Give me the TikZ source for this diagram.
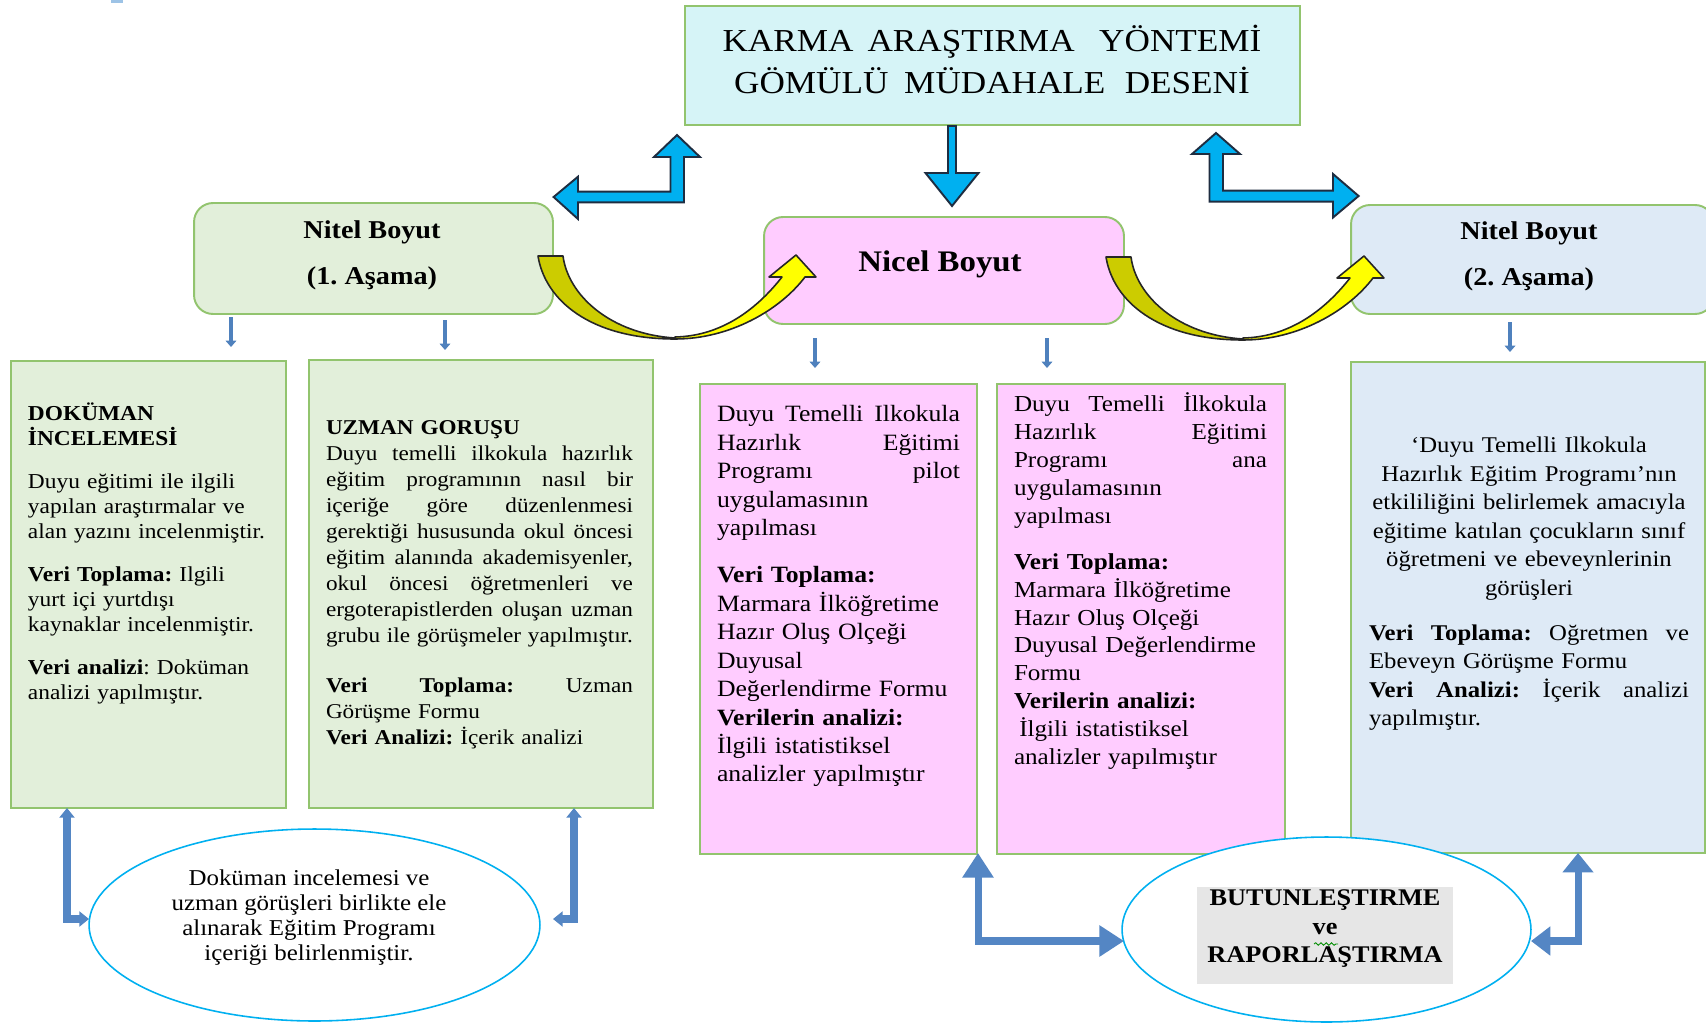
\documentclass[tikz,border=0pt]{standalone}
\usepackage{fontspec}
\setmainfont{Liberation Serif}[FakeStretch=1.1]
\usetikzlibrary{arrows.meta,shapes.geometric,decorations.pathmorphing}
\definecolor{boxgreen}{RGB}{146,196,110}
\definecolor{titlefill}{RGB}{214,244,247}
\definecolor{greenfill}{RGB}{226,239,218}
\definecolor{pinkfill}{RGB}{255,204,255}
\definecolor{bluefill}{RGB}{222,234,246}
\definecolor{arrowblue}{RGB}{0,176,240}
\definecolor{arrowdark}{RGB}{30,45,65}
\definecolor{yeldark}{RGB}{204,204,0}
\definecolor{yelbright}{RGB}{255,255,0}
\definecolor{smallblue}{RGB}{79,129,189}
\definecolor{midblue}{RGB}{84,134,196}
\definecolor{ellblue}{RGB}{0,176,240}
\definecolor{grayfill}{RGB}{230,230,230}
\definecolor{marklight}{RGB}{157,195,230}
\frenchspacing
\newcommand\fsz[2]{\fontsize{#1}{#2}\selectfont}
\newcommand\jst[2]{\makebox[#1][s]{\spaceskip=\fontdimen2\font plus 1fil\relax #2}}
\newcommand\YelArrow{%
  \path[yelline, fill=yeldark] (538,256) -- (563,256)
     .. controls (568,295) and (610,334) .. (675,338) -- (675,339)
     .. controls (590,339) and (545,300) .. (538,256) -- cycle;
  \path[yelline, fill=yelbright] (675,339)
     .. controls (730,339) and (780,310) .. (805,277) -- (816,277) -- (796,255)
     -- (769,277) -- (782,277)
     .. controls (760,305) and (725,336) .. (675,337) -- cycle;
}
\tikzset{
  box/.style={draw=boxgreen, line width=1.1pt, inner sep=0pt, outer sep=0pt},
  rbox/.style={box, rounded corners=0.38cm},
  txt/.style={inner sep=0pt, outer sep=0pt, align=left},
  blockarrow/.style={fill=arrowblue, draw=arrowdark, line width=1.1pt, line join=miter},
  yelline/.style={draw=black!85, line width=0.9pt, line join=round},
  thinarr/.style={draw=smallblue, line width=2.2pt, -{Triangle[width=6pt,length=3.6pt]}},
  elbowS/.style={draw=midblue, line width=4pt, {Triangle[width=8.5pt,length=5.5pt]}-{Triangle[width=8.5pt,length=5.5pt]}},
  elbowB/.style={draw=midblue, line width=4pt, {Triangle[width=17pt,length=14pt]}-{Triangle[width=17pt,length=14pt]}},
  ellbox/.style={ellipse, draw=ellblue, line width=0.9pt, fill=white, inner sep=0pt},
}
\begin{document}
\begin{tikzpicture}[x=0.02cm, y=-0.02cm]
\fill[white] (0,0) rectangle (1706,1024);
\useasboundingbox (0,0) rectangle (1706,1024);
\fill[marklight] (111,0) rectangle (123,3);

% ---- top boxes
\node[box, fill=titlefill, minimum width=12.3cm, minimum height=2.38cm] (title) at (992.5,65.5) {};
\node[txt, align=center, anchor=north, font=\fsz{18.2}{23.9}] (titletxt) at (992,22.5)
  {\strut KARMA\hspace{8pt}ARAŞTIRMA\hspace{14pt}YÖNTEMİ\\GÖMÜLÜ\hspace{9pt}MÜDAHALE\hspace{11pt}DESENİ\strut};

\node[rbox, fill=greenfill, minimum width=7.18cm, minimum height=2.22cm] (nitelA) at (373.5,258.5) {};
\node[txt, align=center, anchor=north, font=\bfseries\fsz{14.6}{26.2}] (nitelAtxt) at (372,206)
  {\strut Nitel Boyut\\(1. Aşama)\strut};

\node[rbox, fill=pinkfill, minimum width=7.2cm, minimum height=2.14cm] (nicel) at (944,270.5) {};
\node[txt, anchor=base, font=\bfseries\fsz{17}{20}] (niceltxt) at (940,271) {Nicel Boyut};

\node[rbox, fill=bluefill, minimum width=7.26cm, minimum height=2.18cm] (nitelB) at (1532.5,259.5) {};
\node[txt, align=center, anchor=north, font=\bfseries\fsz{14.6}{26.2}] (nitelBtxt) at (1529,207)
  {\strut Nitel Boyut\\(2. Aşama)\strut};

% ---- block arrows (blue)
\path[blockarrow] (677,135) -- (700,157) -- (684,157) -- (684,202.3) -- (578,202.3) -- (578,219)
  -- (553.6,197) -- (578,176.7) -- (578,191.7) -- (670.5,191.7) -- (670.5,157) -- (654,157) -- cycle;
\path[blockarrow] (1216,133) -- (1240,154) -- (1223,154) -- (1223,190.7) -- (1333,190.7) -- (1333,174)
  -- (1358.6,196) -- (1333,217.5) -- (1333,201.7) -- (1209.5,201.7) -- (1209.5,154) -- (1192,154) -- cycle;
\path[blockarrow] (948,126) -- (956,126) -- (956,173) -- (978.5,173) -- (952,206) -- (925.5,173) -- (948,173) -- cycle;

% ---- content boxes
\node[box, fill=greenfill, minimum width=5.5cm, minimum height=8.94cm] (dok) at (148.5,584.5) {};
\node[box, fill=greenfill, minimum width=6.88cm, minimum height=8.96cm] (uzman) at (481,584) {};
\node[box, fill=pinkfill, minimum width=5.54cm, minimum height=9.4cm] (pinkA) at (838.5,619) {};
\node[box, fill=pinkfill, minimum width=5.76cm, minimum height=9.4cm] (pinkB) at (1141,619) {};
\node[box, fill=bluefill, minimum width=7.08cm, minimum height=9.82cm] (blue) at (1528,607.5) {};

\node[txt, anchor=north west, text width=5.6cm, font=\fsz{12.1}{14.2}] (doktxt) at (28,402.5)
 {\strut\textbf{DOKÜMAN}\\[-1pt]\textbf{İNCELEMESİ}\\[10.2pt]
  Duyu eğitimi ile ilgili\\yapılan araştırmalar ve\\alan yazını incelenmiştir.\\[10.2pt]
  \textbf{Veri Toplama:} Ilgili\\yurt içi yurtdışı\\kaynaklar incelenmiştir.\\[10.2pt]
  \textbf{Veri analizi}: Doküman\\analizi yapılmıştır.};

\node[txt, anchor=north west, text width=6.6cm, font=\fsz{12.0}{14.8}] (uzmantxt) at (326,416)
 {\strut\textbf{UZMAN GORUŞU}\\
  \jst{6.14cm}{Duyu temelli ilkokula hazırlık}\\
  \jst{6.14cm}{eğitim programının nasıl bir}\\
  \jst{6.14cm}{içeriğe göre düzenlenmesi}\\
  \jst{6.14cm}{gerektiği hususunda okul öncesi}\\
  \jst{6.14cm}{eğitim alanında akademisyenler,}\\
  \jst{6.14cm}{okul öncesi öğretmenleri ve}\\
  \jst{6.14cm}{ergoterapistlerden oluşan uzman}\\
  \jst{6.14cm}{grubu ile görüşmeler yapılmıştır.}\\[13.7pt]
  \jst{6.14cm}{\textbf{Veri Toplama:} Uzman}\\
  Görüşme Formu\\
  \textbf{Veri Analizi:} İçerik analizi};

\node[txt, anchor=north west, text width=5.4cm, font=\fsz{13.3}{16.2}] (pinkAtxt) at (717,402)
 {\strut\jst{4.86cm}{Duyu Temelli Ilkokula}\\
  \jst{4.86cm}{Hazırlık Eğitimi}\\
  \jst{4.86cm}{Programı pilot}\\
  uygulamasının\\yapılması\\[10.5pt]
  \textbf{Veri Toplama:}\\Marmara İlköğretime\\Hazır Oluş Olçeği\\Duyusal\\Değerlendirme Formu\\
  \textbf{Verilerin analizi:}\\İlgili istatistiksel\\analizler yapılmıştır};

\node[txt, anchor=north west, text width=5.6cm, font=\fsz{13.0}{15.9}] (pinkBtxt) at (1014,392)
 {\strut\jst{5.06cm}{Duyu Temelli İlkokula}\\
  \jst{5.06cm}{Hazırlık Eğitimi}\\
  \jst{5.06cm}{Programı ana}\\
  uygulamasının\\yapılması\\[10.2pt]
  \textbf{Veri Toplama:}\\Marmara İlköğretime\\Hazır Oluş Olçeği\\Duyusal Değerlendirme\\Formu\\
  \textbf{Verilerin analizi:}\\\hspace{3pt}İlgili istatistiksel\\analizler yapılmıştır};

\node[txt, align=center, anchor=north, text width=7cm, font=\fsz{12.8}{16.2}] (bluetxt) at (1529,433)
 {\strut ‘Duyu Temelli Ilkokula\\Hazırlık Eğitim Programı’nın\\etkililiğini belirlemek amacıyla\\
  eğitime katılan çocukların sınıf\\öğretmeni ve ebeveynlerinin\\görüşleri\\[9.4pt]
  \jst{6.4cm}{\textbf{Veri Toplama:} Oğretmen ve}\\
  \makebox[6.4cm][l]{Ebeveyn Görüşme Formu}\\
  \jst{6.4cm}{\textbf{Veri Analizi:} İçerik analizi}\\
  \makebox[6.4cm][l]{yapılmıştır.}};

% ---- yellow curved arrows
\YelArrow
\begin{scope}[shift={(568,1)}]
\YelArrow
\end{scope}

% ---- small down arrows
\coordinate (d1a) at (231,317); \coordinate (d1b) at (231,347);
\coordinate (d2a) at (445,320); \coordinate (d2b) at (445,350);
\coordinate (d3a) at (815,338); \coordinate (d3b) at (815,368);
\coordinate (d4a) at (1047,338); \coordinate (d4b) at (1047,368);
\coordinate (d5a) at (1510,322); \coordinate (d5b) at (1510,352);
\draw[thinarr] (d1a) -- (d1b);
\draw[thinarr] (d2a) -- (d2b);
\draw[thinarr] (d3a) -- (d3b);
\draw[thinarr] (d4a) -- (d4b);
\draw[thinarr] (d5a) -- (d5b);

% ---- ellipses
\node[ellbox, minimum width=9.02cm, minimum height=3.84cm] (ellA) at (314.5,925) {};
\node[txt, align=center, anchor=north, font=\fsz{12.9}{14.2}] (ellAtxt) at (309,868.5)
 {\strut Doküman incelemesi ve\\uzman görüşleri birlikte ele\\alınarak Eğitim Programı\\içeriği belirlenmiştir.\strut};

\node[ellbox, minimum width=8.18cm, minimum height=3.7cm] (ellB) at (1326.5,929.5) {};
\node[fill=grayfill, inner sep=0pt, minimum width=5.12cm, minimum height=1.94cm] (gray) at (1325,935.5) {};
\node[txt, align=center, anchor=north, font=\bfseries\fsz{13.6}{16.2}] (ellBtxt) at (1325,886)
 {\strut BUTUNLEŞTIRME\\ve\\RAPORLAŞTIRMA\strut};
\draw[green!55!black, line width=0.5pt, decorate, decoration={snake, amplitude=0.7pt, segment length=3pt}]
  (1314,944) -- (1338,944);

% ---- bottom elbow arrows
\coordinate (b1a) at (67,808);   \coordinate (b1b) at (89,919);
\coordinate (b2a) at (574,808);  \coordinate (b2b) at (553,919);
\coordinate (b3a) at (978,853);  \coordinate (b3b) at (1124,941);
\coordinate (b4a) at (1578,853); \coordinate (b4b) at (1531,941);
\draw[elbowS] (b1a) |- (b1b);
\draw[elbowS] (b2a) |- (b2b);
\draw[elbowB] (b3a) |- (b3b);
\draw[draw=midblue, line width=4pt, {Triangle[width=17pt,length=11pt]}-{Triangle[width=16pt,length=11pt]}] (b4a) |- (b4b);
\end{tikzpicture}
\end{document}
